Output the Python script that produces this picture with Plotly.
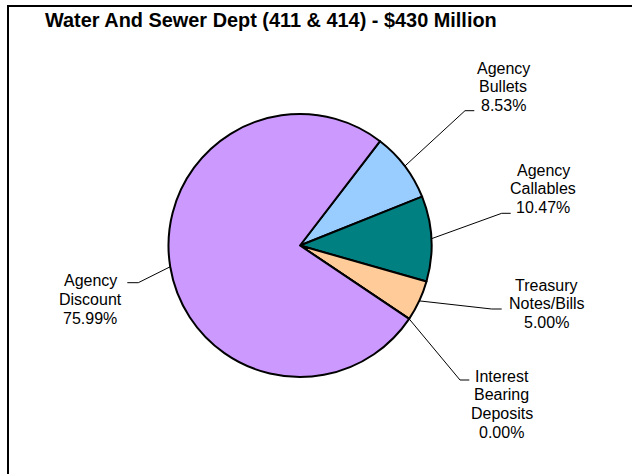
import math
import plotly.graph_objects as go

# ---- data ----
labels = ["Agency Bullets", "Agency Callables", "Treasury Notes/Bills",
          "Interest Bearing Deposits", "Agency Discount"]
label_lines = [["Agency", "Bullets"], ["Agency", "Callables"], ["Treasury", "Notes/Bills"],
               ["Interest", "Bearing", "Deposits"], ["Agency", "Discount"]]
values = [8.53, 10.47, 5.00, 0.00, 75.99]
colors = ["#99CCFF", "#008080", "#FFCC99", "#FFFFFF", "#CC99FF"]
title_text = "Water And Sewer Dept (411 & 414) - $430 Million"

# ---- layout (pixels) ----
W, H = 632, 474
CX, CY, R = 300.0, 245.5, 131.5
ROT = 37.5
# per label: elbow x, elbow y, horizontal end x, text center x, first line y
label_pos = [
    (465.0, 110.7, 474.3, 503.0, 68.0),
    (501.7, 213.3, 510.7, 543.0, 170.0),
    (491.7, 309.0, 501.7, 546.7, 285.0),
    (460.0, 380.0, 469.3, 501.7, 376.0),
    (138.3, 282.7, 127.3, 90.0, 280.5),
]
LINE_H = 18.9
FONT = "Arial, Liberation Sans, sans-serif"


def px(x):
    return x / W


def py(y):
    return 1 - y / H


fig = go.Figure(go.Pie(
    labels=labels, values=values, sort=False, direction="clockwise",
    rotation=ROT, textinfo="none", hoverinfo="label+percent",
    marker=dict(colors=colors, line=dict(color="black", width=2)),
    domain=dict(x=[px(CX - R), px(CX + R)], y=[py(CY + R), py(CY - R)]),
    showlegend=False,
))

shapes = [
    dict(type="rect", xref="paper", yref="paper", x0=px(8), x1=px(640), y0=py(482), y1=py(6),
         line=dict(color="black", width=2), fillcolor="rgba(0,0,0,0)", layer="above"),
]
annotations = []
total = sum(values)
cum = 0.0
for i, v in enumerate(values):
    mid = ROT + (cum + v / 2) / total * 360.0
    cum += v
    a = math.radians(mid)
    sx, sy = CX + R * math.sin(a), CY - R * math.cos(a)
    ex, ey, hx, tx, ty = label_pos[i]
    shapes.append(dict(type="path", xref="paper", yref="paper",
                       path=f"M {px(sx)},{py(sy)} L {px(ex)},{py(ey)} L {px(hx)},{py(ey)}",
                       line=dict(color="black", width=1)))
    lines = label_lines[i] + [f"{v:.2f}%"]
    for j, t in enumerate(lines):
        annotations.append(dict(text=t, x=px(tx), y=py(ty + j * LINE_H),
                                xref="paper", yref="paper", showarrow=False,
                                xanchor="center", yanchor="middle",
                                font=dict(family=FONT, size=16, color="black")))

annotations.append(dict(text=f"<b>{title_text}</b>", x=px(270.5), y=py(20),
                        xref="paper", yref="paper", showarrow=False,
                        xanchor="center", yanchor="middle",
                        font=dict(family=FONT, size=19.9, color="black")))

fig.update_layout(width=W, height=H, margin=dict(l=0, r=0, t=0, b=0),
                  paper_bgcolor="white", plot_bgcolor="white",
                  shapes=shapes, annotations=annotations)
fig.write_html("out.html", config={"displayModeBar": False},
               post_script="document.body.style.margin='0';document.body.style.overflow='hidden';")
